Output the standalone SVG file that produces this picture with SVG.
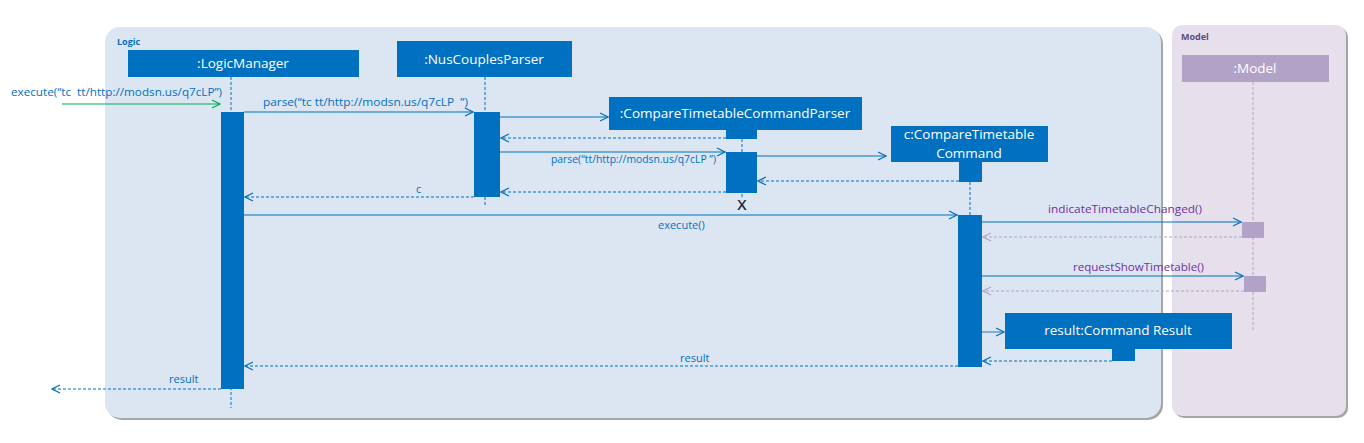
<svg xmlns="http://www.w3.org/2000/svg" width="1364" height="443" viewBox="0 0 1364 443">
<style>
.t{font-family:"Open Sans","Liberation Sans",sans-serif;white-space:pre;}
.box{fill:#0070c0;}
.act{fill:#0070c0;}
.bt{fill:#ffffff;font-size:13.5px;text-anchor:middle;}
.ml{fill:#0070c0;font-size:11px;}
.pl{fill:#7030a0;font-size:11px;}
.ll{stroke:#0070c0;stroke-width:1;stroke-dasharray:3,2;fill:none;}
.msg{stroke:#0070c0;stroke-width:1.2;fill:none;marker-end:url(#ab);}
.ret{stroke:#0070c0;stroke-width:1;stroke-dasharray:3,2;fill:none;marker-end:url(#ab);}
.retp{stroke:#b3a2c7;stroke-width:1;stroke-dasharray:3,2;fill:none;marker-end:url(#ap);}
</style>
<defs>
<marker id="ab" markerUnits="userSpaceOnUse" markerWidth="10" markerHeight="10" viewBox="0 0 10 10" refX="9" refY="5" orient="auto">
<path d="M1,1 L9,5 L1,9" fill="none" stroke="#0070c0" stroke-width="1.2"/>
</marker>
<marker id="ap" markerUnits="userSpaceOnUse" markerWidth="10" markerHeight="10" viewBox="0 0 10 10" refX="9" refY="5" orient="auto">
<path d="M1,1 L9,5 L1,9" fill="none" stroke="#b3a2c7" stroke-width="1.2"/>
</marker>
<marker id="ag" markerUnits="userSpaceOnUse" markerWidth="10" markerHeight="10" viewBox="0 0 10 10" refX="9" refY="5" orient="auto">
<path d="M1,1 L9,5 L1,9" fill="none" stroke="#00b050" stroke-width="1.2"/>
</marker>
</defs>
<rect width="1364" height="443" fill="#ffffff"/>

<g id="logic-frame">
<rect x="107" y="29" width="1056" height="391" rx="15" fill="#a6a6a6"/>
<rect x="105" y="27" width="1056" height="391" rx="15" fill="#dce6f2"/>
<text class="t" x="117" y="45" font-size="9" font-weight="bold" fill="#0070c0">Logic</text>
</g>
<g id="model-frame">
<rect x="1174" y="27" width="174" height="391" rx="10" fill="#a6a6a6"/>
<rect x="1172" y="25" width="174" height="391" rx="10" fill="#e6e0ec"/>
<text class="t" x="1181" y="40" font-size="9" font-weight="bold" fill="#604a7b">Model</text>
</g>

<g id="LogicManager">
<rect class="box" x="128" y="50" width="231" height="27"/>
<text class="t bt" x="243" y="68">:LogicManager</text>
<line class="ll" x1="231" y1="77" x2="231" y2="408"/>
<rect class="act" x="221" y="112" width="23" height="277"/>
</g>

<g id="NusCouplesParser">
<rect class="box" x="397" y="41" width="175" height="36"/>
<text class="t bt" x="484" y="64">:NusCouplesParser</text>
<line class="ll" x1="485" y1="77" x2="485" y2="205"/>
<rect class="act" x="474" y="112" width="26" height="85"/>
</g>

<g id="CompareTimetableCommandParser">
<rect class="box" x="609" y="97" width="253" height="33"/>
<text class="t bt" x="735" y="118">:CompareTimetableCommandParser</text>
<rect class="act" x="726" y="130" width="31" height="9"/>
<line class="ll" x1="742" y1="139" x2="742" y2="197"/>
<rect class="act" x="726" y="152" width="31" height="41"/>
<text class="t" x="742" y="210" font-size="15" font-weight="600" text-anchor="middle" fill="#1f2a44">X</text>
</g>

<g id="CompareTimetableCommand">
<rect class="box" x="891" y="126" width="157" height="36"/>
<text class="t bt" x="969" y="139">c:CompareTimetable</text>
<text class="t bt" x="969" y="158">Command</text>
<rect class="act" x="959" y="162" width="23" height="20"/>
<line class="ll" x1="970" y1="182" x2="970" y2="215"/>
<rect class="act" x="958" y="215" width="24" height="152"/>
</g>

<g id="Model">
<rect x="1182" y="55" width="147" height="27" fill="#b3a2c7"/>
<text class="t bt" x="1255" y="73">:Model</text>
<line x1="1253" y1="82" x2="1253" y2="332" stroke="#b3a2c7" stroke-width="1" stroke-dasharray="3,2"/>
<rect x="1242" y="222" width="22" height="16" fill="#b3a2c7"/>
<rect x="1244" y="276" width="22" height="16" fill="#b3a2c7"/>
</g>

<g id="CommandResult">
<rect class="box" x="1005" y="313" width="227" height="36"/>
<text class="t bt" x="1118" y="335">result:Command Result</text>
<rect class="act" x="1112" y="349" width="23" height="12"/>
</g>

<g id="connectors">
<text class="t ml" x="11" y="96" textLength="211" lengthAdjust="spacingAndGlyphs">execute(“tc  tt/http://modsn.us/q7cLP”)</text>
<line x1="62" y1="104" x2="220" y2="104" stroke="#00b050" stroke-width="1.2" marker-end="url(#ag)"/>

<text class="t ml" x="263" y="106" textLength="205" lengthAdjust="spacingAndGlyphs">parse(“tc tt/http://modsn.us/q7cLP  ”)</text>
<line class="msg" x1="244" y1="112" x2="473" y2="112"/>

<line class="msg" x1="500" y1="117" x2="608" y2="117"/>
<line class="ret" x1="726" y1="138" x2="501" y2="138"/>

<line class="msg" x1="500" y1="152" x2="725" y2="152"/>
<text class="t ml" x="551" y="163" font-size="9.5" textLength="165" lengthAdjust="spacingAndGlyphs">parse(“tt/http://modsn.us/q7cLP ”)</text>

<line class="msg" x1="757" y1="156" x2="886" y2="156"/>
<line class="ret" x1="959" y1="181" x2="758" y2="181"/>

<line class="ret" x1="726" y1="192" x2="501" y2="192"/>
<text class="t ml" x="416" y="193">c</text>
<line class="ret" x1="474" y1="197" x2="245" y2="197"/>

<line class="msg" x1="244" y1="215" x2="957" y2="215"/>
<text class="t ml" x="658" y="229">execute()</text>

<text class="t pl" x="1048" y="213" textLength="154" lengthAdjust="spacingAndGlyphs">indicateTimetableChanged()</text>
<line class="msg" x1="982" y1="222" x2="1241" y2="222"/>
<line class="retp" x1="1242" y1="237" x2="983" y2="237"/>

<text class="t pl" x="1073" y="271" textLength="131" lengthAdjust="spacingAndGlyphs">requestShowTimetable()</text>
<line class="msg" x1="982" y1="276" x2="1243" y2="276"/>
<line class="retp" x1="1244" y1="291" x2="983" y2="291"/>

<line x1="982" y1="332" x2="1004" y2="332" stroke="#4a86c8" stroke-width="1.2" marker-end="url(#ab)"/>
<line class="ret" x1="1112" y1="361" x2="983" y2="361"/>

<line class="ret" x1="958" y1="366" x2="245" y2="366"/>
<text class="t ml" x="680" y="362">result</text>

<line class="ret" x1="221" y1="389" x2="52" y2="389"/>
<text class="t ml" x="169" y="383">result</text>
</g>
</svg>
